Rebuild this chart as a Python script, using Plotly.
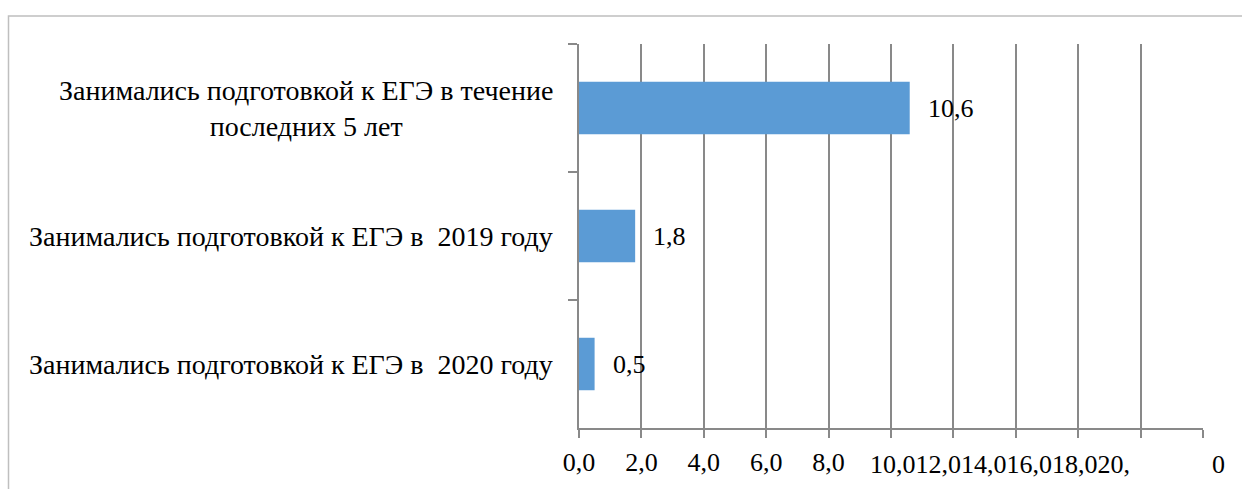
import plotly.graph_objects as go

# Data (top-to-bottom order as in the reference)
categories = [
    "Занимались подготовкой к ЕГЭ в течение<br>последних 5 лет",
    "Занимались подготовкой к ЕГЭ в\u00a0 2019 году",
    "Занимались подготовкой к ЕГЭ в\u00a0 2020 году",
]
values = [10.6, 1.8, 0.5]
x_tick_values = [0, 2, 4, 6, 8, 10, 12, 14, 16, 18, 20]
x_tick_labels = ["0,0", "2,0", "4,0", "6,0", "8,0", "", "", "", "", "", ""]
crammed_label = "10,012,014,016,018,020,"
tail_label = "0"

FONT = "Liberation Serif"
GRID = "#898989"
BAR = "#5B9BD5"

fig = go.Figure()
fig.add_trace(go.Bar(
    x=values, y=categories, orientation="h",
    marker=dict(color=BAR, line=dict(width=0)),
    width=0.41, hoverinfo="skip",
))

annotations = []
# category labels (centered multi-line, right-aligned block)
for c in categories:
    annotations.append(dict(
        xref="paper", yref="y", x=0, y=c, xanchor="right", yanchor="middle",
        xshift=-24, text=c, showarrow=False, align="center",
        font=dict(family=FONT, size=28, color="#000000"),
    ))
# data labels
for c, v in zip(categories, values):
    annotations.append(dict(
        xref="x", yref="y", x=v, y=c, xanchor="left", yanchor="middle",
        xshift=16, text=f"{v:.1f}".replace(".", ","), showarrow=False,
        font=dict(family=FONT, size=26, color="#000000"),
    ))
# crammed x tick labels as rendered in the reference
annotations.append(dict(
    xref="x", yref="paper", x=x_tick_values[5], y=0, xanchor="left", yanchor="middle",
    xshift=-23, yshift=-36, text=crammed_label, showarrow=False,
    font=dict(family=FONT, size=26, color="#000000"),
))
annotations.append(dict(
    xref="x", yref="paper", x=x_tick_values[-1], y=0, xanchor="center", yanchor="middle",
    xshift=15, yshift=-36, text=tail_label, showarrow=False,
    font=dict(family=FONT, size=26, color="#000000"),
))

fig.update_layout(
    width=1242, height=489,
    margin=dict(l=579, r=39, t=44, b=55),
    paper_bgcolor="white", plot_bgcolor="white",
    showlegend=False,
    font=dict(family=FONT, color="#000000"),
    annotations=annotations,
    shapes=[dict(
        type="rect", xref="paper", yref="paper",
        x0=(8.5 - 579) / 624, x1=(1300 - 579) / 624,
        y0=(434 - 560) / 390, y1=(434 - 15.5) / 390,
        line=dict(color="#BFBFBF", width=1.5), fillcolor="rgba(0,0,0,0)",
        layer="below",
    )],
    xaxis=dict(
        range=[0, 20], tickmode="array", tickvals=x_tick_values, ticktext=x_tick_labels,
        showgrid=True, gridcolor=GRID, gridwidth=1.5, zeroline=False,
        showline=True, linecolor=GRID, linewidth=1.5,
        ticks="outside", ticklen=8, tickcolor=GRID, tickwidth=1.5,
        ticklabelstandoff=2,
        tickfont=dict(family=FONT, size=26, color="#000000"),
        fixedrange=True,
    ),
    yaxis=dict(
        type="category", categoryorder="array", categoryarray=categories,
        autorange="reversed", tickson="boundaries",
        showticklabels=False, showgrid=False, zeroline=False,
        showline=True, linecolor=GRID, linewidth=1.5,
        ticks="outside", ticklen=9, tickcolor=GRID, tickwidth=1.5,
        fixedrange=True,
    ),
)

fig.write_html(
    "out.html",
    config={"displayModeBar": False},
    post_script="document.body.style.margin='0';document.body.style.overflow='hidden';",
)
